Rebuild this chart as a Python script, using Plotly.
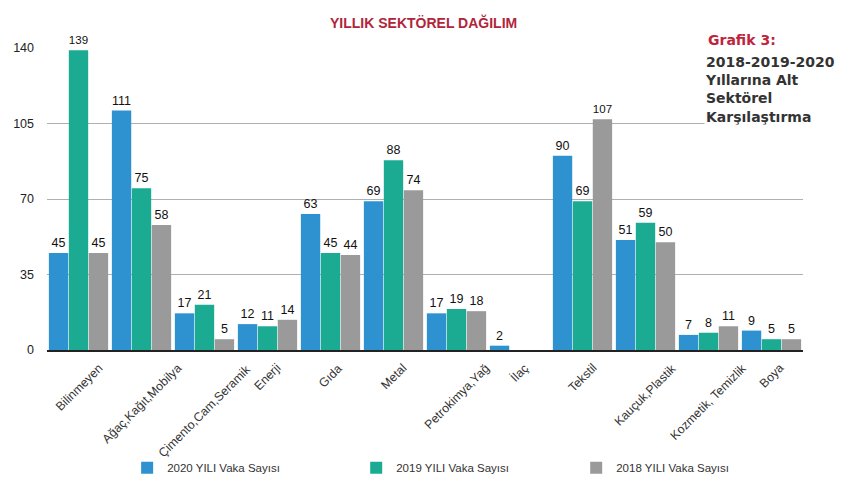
import plotly.graph_objects as go

categories = ["Bilinmeyen", "Ağaç,Kağıt,Mobilya", "Çimento,Cam,Seramik", "Enerji", "Gıda", "Metal",
              "Petrokimya,Yağ", "İlaç", "Tekstil", "Kauçuk,Plastik", "Kozmetik, Temizlik", "Boya"]
v2020 = [45, 111, 17, 12, 63, 69, 17, 2, 90, 51, 7, 9]
v2019 = [139, 75, 21, 11, 45, 88, 19, 0, 69, 59, 8, 5]
v2018 = [45, 58, 5, 14, 44, 74, 18, 0, 107, 50, 11, 5]
series_names = ["2020 YILI Vaka Sayısı", "2019 YILI Vaka Sayısı", "2018 YILI Vaka Sayısı"]
colors = ["#2f92d0", "#1bab93", "#9a9a9a"]
yticks = [0, 35, 70, 105, 140]

font_main = "Liberation Sans, Arial, sans-serif"
legend_ids = ["legend", "legend2", "legend3"]
legend_x = [0.106, 0.409, 0.70]

fig = go.Figure()
for name, vals, col, lg in zip(series_names, [v2020, v2019, v2018], colors, legend_ids):
    fig.add_trace(go.Bar(
        x=categories, y=vals, name=name, legend=lg,
        marker=dict(color=col, line=dict(width=0)),
        text=[str(v) if v else "" for v in vals],
        textposition="outside",
        textfont=dict(size=12.5, color="#111", family=font_main),
        cliponaxis=False,
    ))

legend_common = dict(orientation="h", y=-0.39, yanchor="middle", xanchor="left",
                     bgcolor="rgba(0,0,0,0)",
                     font=dict(size=11.5, color="#333", family=font_main))
layout_legends = {}
for lg, lx in zip(legend_ids, legend_x):
    layout_legends[lg] = dict(x=lx, **legend_common)

fig.update_layout(
    width=847, height=480,
    margin=dict(l=47, r=44, t=48, b=130, autoexpand=False),
    paper_bgcolor="white", plot_bgcolor="white",
    barmode="group", bargap=0.05, bargroupgap=0.03,
    font=dict(family=font_main, color="#333"),
    showlegend=True,
    xaxis=dict(showticklabels=False, automargin=False,
               showgrid=False, showline=True, linecolor="#222", linewidth=1.5,
               ticks="", fixedrange=True),
    yaxis=dict(range=[0, 140], tickvals=yticks, tickfont=dict(size=12.5, color="#222"),
               showgrid=True, gridcolor="#b0b0b0", gridwidth=1, automargin=False,
               zeroline=False, showline=False, ticks="", ticklabelstandoff=12),
    **layout_legends,
)

# category labels, rotated and centred under each group
for cat in categories:
    fig.add_annotation(text=cat, x=cat, xref="x", y=0, yref="paper",
                       yshift=-10, xanchor="center", yanchor="top", textangle=-45,
                       showarrow=False, borderpad=0,
                       font=dict(size=12.3, color="#333", family=font_main))

fig.add_annotation(text="<b>YILLIK SEKTÖREL DAĞILIM</b>", xref="paper", yref="paper",
                   x=(423 - 47) / 756, y=1 + (48 - 22) / 302, xanchor="center", yanchor="middle",
                   showarrow=False, font=dict(size=14, color="#b0253a", family=font_main))

fig.add_annotation(text="<b>Grafik 3:</b>", xref="paper", yref="paper",
                   x=(706 - 47) / 756, y=1 + (48 - 40) / 302, xanchor="left", yanchor="middle",
                   showarrow=False, font=dict(size=14, color="#c0243c", family="DejaVu Sans"))

fig.add_annotation(text="<b>2018-2019-2020<br>Yıllarına Alt<br>Sektörel<br>Karşılaştırma</b>",
                   xref="paper", yref="paper", align="left",
                   x=(704 - 47) / 756, y=1 - (53 - 48) / 302, xanchor="left", yanchor="top",
                   showarrow=False, bgcolor="white", borderpad=0, width=140,
                   font=dict(size=14, color="#333", family="DejaVu Sans"))

fig.write_html("out.html")
